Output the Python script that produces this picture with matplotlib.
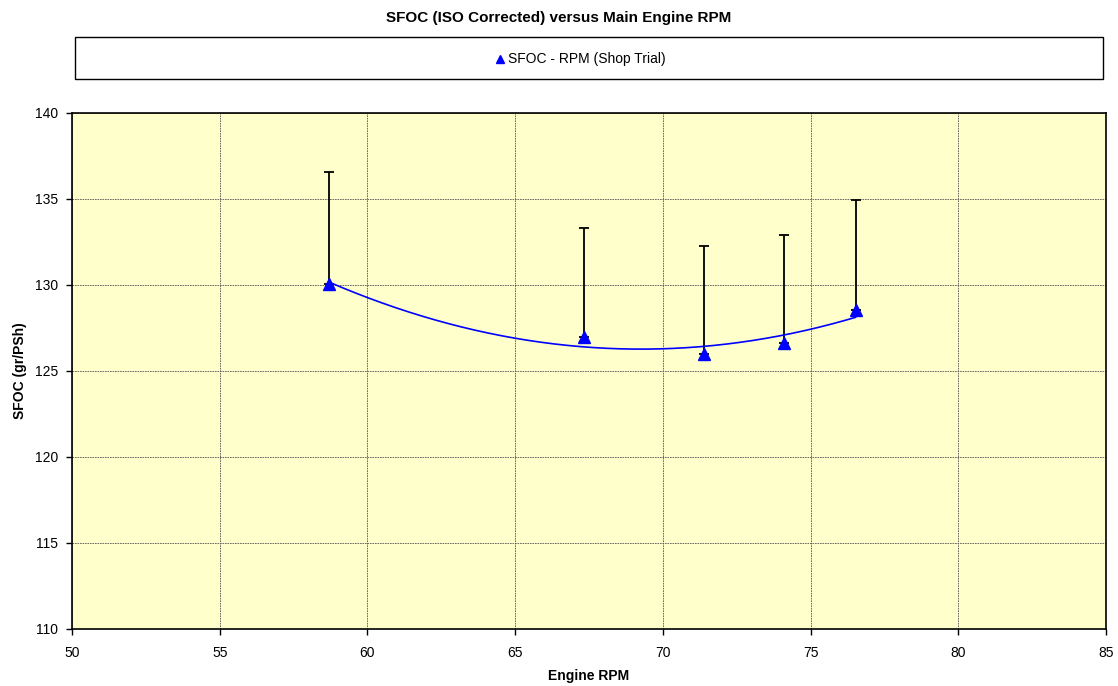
import numpy as np
import matplotlib.pyplot as plt
from matplotlib.patches import Rectangle

# shop trial points
rpm = [58.70, 67.33, 71.39, 74.09, 76.52]
sfoc = [130.06, 126.98, 125.99, 126.63, 128.55]
sfoc_top = [136.57, 133.31, 132.27, 132.91, 134.94]

x_ticks = [50, 55, 60, 65, 70, 75, 80, 85]
y_ticks = [110, 115, 120, 125, 130, 135, 140]

plt.rcParams['font.family'] = ['Liberation Sans', 'DejaVu Sans']

fig = plt.figure(figsize=(11.18, 6.86), dpi=100)
ax = fig.add_axes([0.0644, 0.0831, 0.9249, 0.7522])
ax.set_facecolor('#FFFFCC')

# error bars (only upward)
up = np.array(sfoc_top) - np.array(sfoc)
ax.errorbar(rpm, sfoc, yerr=[np.zeros(len(up)), up], fmt='none',
            ecolor='black', elinewidth=1.3, capsize=3.5, capthick=1.3, zorder=3)

# 2nd order trendline
coef = np.polyfit(rpm, sfoc, 2)
xs = np.linspace(min(rpm), max(rpm), 200)
ax.plot(xs, np.polyval(coef, xs), color='#0000FF', lw=1.2, zorder=4)

ax.plot(rpm, sfoc, linestyle='none', marker='^', color='#0000FF', ms=9, zorder=5)

ax.set_xlim(50, 85)
ax.set_ylim(110, 140)
ax.set_xticks(x_ticks)
ax.set_yticks(y_ticks)
ax.grid(True, color='#555555', linestyle=(0, (2, 1)), linewidth=0.6)
ax.set_axisbelow(True)
for s in ax.spines.values():
    s.set_linewidth(1.2)
    s.set_color('black')
ax.tick_params(direction='out', length=4, width=1, labelsize=10)
ax.tick_params(axis='x', pad=8)
ax.tick_params(axis='y', pad=6)

ax.set_xlabel('Engine RPM', fontsize=10, fontweight='bold', labelpad=7)
ax.set_ylabel('SFOC (gr/PSh)', fontsize=10, fontweight='bold', labelpad=6)

fig.text(0.5, 1 - 18 / 686, 'SFOC (ISO Corrected) versus Main Engine RPM',
         ha='center', va='center', fontsize=11, fontweight='bold')

# legend box
fig.patches.append(Rectangle((75 / 1118, 1 - 79 / 686), 1028 / 1118, 42 / 686,
                             transform=fig.transFigure, facecolor='white',
                             edgecolor='black', linewidth=1))
fig.lines.append(plt.Line2D([0.4475], [1 - 59 / 686], transform=fig.transFigure,
                            marker='^', color='#0000FF', ms=6, linestyle='none'))
fig.text(0.4545, 1 - 59 / 686, 'SFOC - RPM (Shop Trial)', ha='left', va='center', fontsize=10)

fig.savefig('out.png', dpi=100)
